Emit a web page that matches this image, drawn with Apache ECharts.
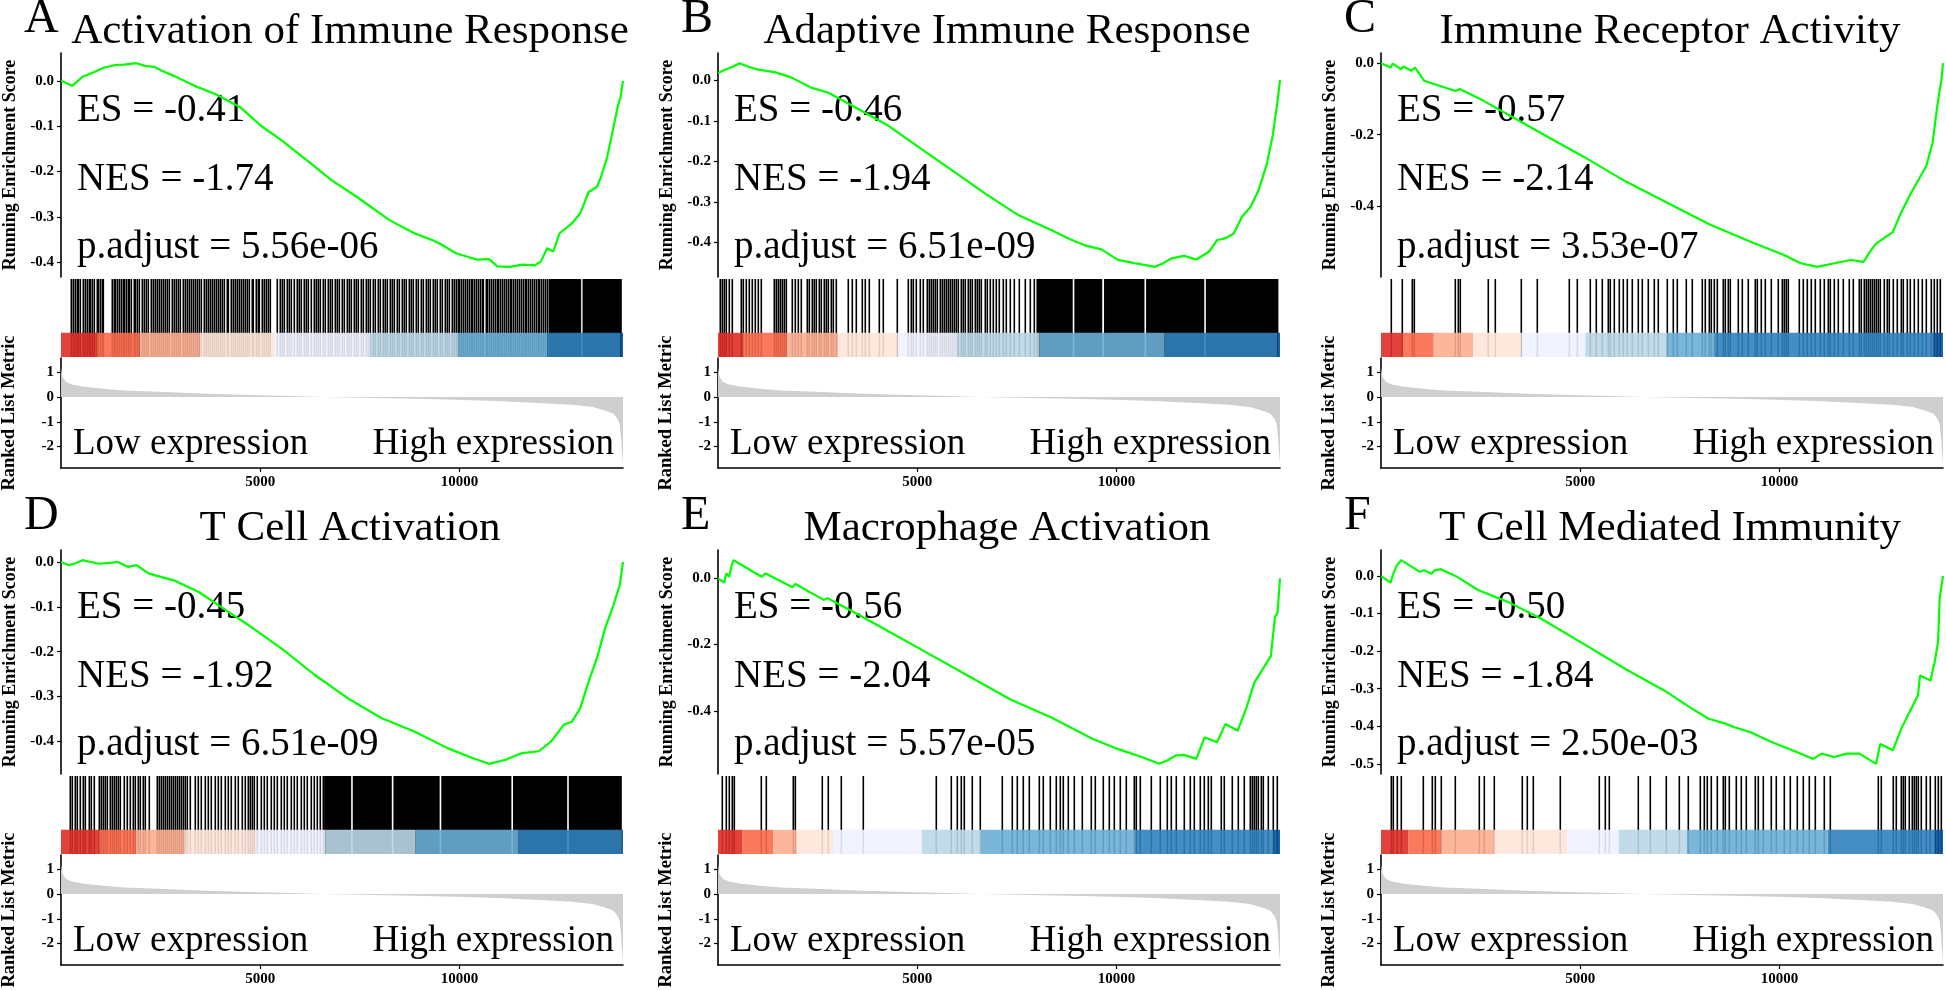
<!DOCTYPE html>
<html><head><meta charset="utf-8">
<script src="https://cdn.jsdelivr.net/npm/echarts@6/dist/echarts.min.js"></script>
<style>html,body{margin:0;padding:0;background:#fff}#c{width:1946px;height:990px}</style>
</head><body><div id="c"></div>
<script>
// ---------------- DATA ----------------
const N = 14100;
const letters = ['A','B','C','D','E','F'];
const titles = ['Activation of Immune Response','Adaptive Immune Response','Immune Receptor Activity',
                'T Cell Activation','Macrophage Activation','T Cell Mediated Immunity'];
const esText = ['ES = -0.41','ES = -0.46','ES = -0.57','ES = -0.45','ES = -0.56','ES = -0.50'];
const nesText = ['NES = -1.74','NES = -1.94','NES = -2.14','NES = -1.92','NES = -2.04','NES = -1.84'];
const padjText = ['p.adjust = 5.56e-06','p.adjust = 6.51e-09','p.adjust = 3.53e-07',
                  'p.adjust = 6.51e-09','p.adjust = 5.57e-05','p.adjust = 2.50e-03'];
const esTicksA = [0,-0.1,-0.2,-0.3,-0.4];
const esTicksB = [0,-0.1,-0.2,-0.3,-0.4];
const esTicksC = [0,-0.2,-0.4];
const esTicksD = [0,-0.1,-0.2,-0.3,-0.4];
const esTicksE = [0,-0.2,-0.4];
const esTicksF = [0,-0.1,-0.2,-0.3,-0.4,-0.5];
const metricTicks = [1,0,-1,-2];
const xTickValues = [5000,10000];
const lowLabel = 'Low expression', highLabel = 'High expression';

const esA = [[1,0.0],[281,-0.011],[541,0.009],[853,0.020],[1061,0.029],[1374,0.035],[1582,0.036],[1894,0.039],[2102,0.033],[2331,0.031],[2518,0.023],[2830,0.011],[3351,-0.011],[3871,-0.029],[4496,-0.058],[5016,-0.099],[5536,-0.131],[6264,-0.182],[6785,-0.219],[7409,-0.255],[8242,-0.307],[8866,-0.336],[9282,-0.350],[9490,-0.358],[9907,-0.380],[10427,-0.394],[10739,-0.393],[10947,-0.409],[11259,-0.410],[11571,-0.405],[11884,-0.407],[12040,-0.398],[12196,-0.369],[12352,-0.376],[12508,-0.336],[12820,-0.314],[13028,-0.292],[13236,-0.245],[13444,-0.234],[13548,-0.212],[13704,-0.168],[13861,-0.102],[13965,-0.058],[14038,-0.036],[14100,0.0]];
const esB = [[1,0.018],[176,0.026],[384,0.034],[540,0.042],[747,0.034],[1006,0.026],[1421,0.020],[1836,0.007],[2355,-0.019],[2770,-0.031],[3393,-0.064],[4223,-0.109],[5053,-0.166],[5883,-0.223],[6713,-0.280],[7543,-0.333],[8373,-0.370],[8788,-0.390],[9203,-0.407],[9618,-0.417],[10033,-0.443],[10448,-0.451],[10967,-0.460],[11174,-0.451],[11382,-0.439],[11693,-0.433],[12004,-0.442],[12315,-0.423],[12523,-0.394],[12730,-0.390],[12938,-0.378],[13145,-0.337],[13353,-0.313],[13560,-0.272],[13768,-0.207],[13923,-0.133],[14027,-0.060],[14100,0.0]];
const esC = [[1,0.0],[241,-0.012],[294,-0.001],[504,-0.017],[556,-0.009],[766,-0.021],[850,-0.012],[1081,-0.049],[1869,-0.078],[1974,-0.072],[2551,-0.104],[3286,-0.150],[4021,-0.196],[5071,-0.261],[6121,-0.330],[7171,-0.390],[8221,-0.450],[9271,-0.500],[10111,-0.537],[10531,-0.560],[10951,-0.570],[11371,-0.560],[11790,-0.551],[12107,-0.556],[12264,-0.528],[12420,-0.505],[12840,-0.473],[13050,-0.418],[13260,-0.371],[13470,-0.330],[13680,-0.288],[13837,-0.224],[13942,-0.132],[14016,-0.076],[14058,-0.049],[14100,0.0]];
const esD = [[1,0.0],[177,-0.007],[333,-0.004],[541,0.004],[749,0.0],[957,-0.004],[1217,-0.002],[1426,0.0],[1686,-0.011],[1894,-0.007],[2206,-0.026],[2830,-0.041],[3455,-0.067],[4079,-0.104],[4704,-0.141],[5536,-0.193],[6368,-0.252],[7201,-0.304],[8033,-0.348],[8866,-0.378],[9698,-0.415],[10323,-0.437],[10739,-0.450],[11155,-0.441],[11571,-0.426],[11988,-0.422],[12300,-0.400],[12612,-0.363],[12820,-0.356],[13028,-0.326],[13236,-0.267],[13444,-0.215],[13652,-0.148],[13861,-0.096],[14017,-0.052],[14100,0.0]];
const esE = [[1,0.0],[156,-0.013],[208,0.015],[281,0.005],[343,0.040],[395,0.055],[1091,0.005],[1195,0.015],[1870,-0.027],[1943,-0.017],[2649,-0.065],[2753,-0.060],[3377,-0.100],[4208,-0.155],[5247,-0.225],[6286,-0.295],[7325,-0.365],[8364,-0.420],[9403,-0.485],[10026,-0.515],[10650,-0.540],[11065,-0.560],[11273,-0.550],[11481,-0.535],[11689,-0.533],[12000,-0.545],[12208,-0.480],[12520,-0.495],[12728,-0.440],[13039,-0.460],[13247,-0.395],[13455,-0.315],[13663,-0.275],[13871,-0.235],[13975,-0.115],[14037,-0.105],[14100,0.0]];
const esF = [[1,0.0],[241,-0.018],[294,0.002],[399,0.028],[504,0.042],[976,0.011],[1081,0.015],[1270,0.006],[1344,0.015],[1501,0.018],[1921,-0.003],[2446,-0.038],[3181,-0.069],[4021,-0.114],[5071,-0.180],[6121,-0.247],[7171,-0.309],[7801,-0.353],[8221,-0.380],[8641,-0.393],[8851,-0.402],[9271,-0.416],[9796,-0.442],[10321,-0.464],[10846,-0.487],[11056,-0.473],[11371,-0.482],[11686,-0.473],[12001,-0.473],[12421,-0.500],[12526,-0.447],[12841,-0.464],[13051,-0.407],[13261,-0.362],[13471,-0.318],[13524,-0.265],[13786,-0.278],[13891,-0.229],[13975,-0.176],[14017,-0.060],[14100,0.0]];

const hitsA = [250,300,352,398,437,489,541,590,640,690,740,790,840,894,936,985,1030,1061,
  1269,1318,1365,1410,1455,1498,1545,1590,1633,1674,1716,1768,1820,1860,1910,1966,
  2020,2075,2130,2185,2246,2300,2350,2413,2460,2510,2560,2621,2670,2720,2777,2830,2880,2933,2990,3050,3120,3170,3220,3270,3318,3370,3420,3470,3520,3580,3630,3682,3740,3790,3840,3890,3950,4000,4046,4100,4160,4202,4260,4320,4368,4420,4470,4520,4570,4620,4670,4720,4780,4826,4880,4930,4980,5044,5090,5140,5190,5252,
  5429,5485,5550,5600,5668,5730,5781,5850,5912,5970,6025,6092,6150,6203,6270,6335,6390,6442,6510,6565,6620,6688,6740,6805,6864,6915,6983,7040,7095,7165,7220,7277,7341,7405,7462,7530,7581,7645,7710,7765,7818,7884,7946,8002,8070,8125,8180,8247,8305,8360,8424,8480,8550,8605,8660,8728,8785,8840,8905,8962,9027,9080,9148,9205,9262,9325,9380,9445,9506,9560,9628,9685,9740,9805,9860,9901,
  9950,9995,10040,10090,10135,10180,10230,10275,10320,10372,10415,10460,10510,10555,10600,10652,10695,10740,10790,10835,10880,10930,10975,11020,11070,11115,11160,11212,11255,11300,11350,11395,11440,11490,11535,11580,11630,11675,11720,11772,11815,11860,11910,11955,12000,12050,12095,12140,12190];
const blocksA = [[12230,13050],[13085,14070]];
const hitsB = [52,104,156,210,280,363,571,620,700,780,850,930,1010,1089,1401,1450,1500,1560,1610,1660,1712,1868,1930,2000,2075,2231,2290,2350,2410,2470,2530,2590,2650,2710,2770,2830,2890,2957,3268,3370,3470,3620,3700,3787,4046,4150,4492,4773,4830,4900,4980,5060,5140,5239,5291,5350,5400,5450,5500,5560,5610,5660,5710,5770,5820,5870,5930,5980,6030,6090,6140,6200,6277,6330,6380,6440,6490,6540,6588,6692,6760,6830,6900,6980,7060,7140,7220,7314,7420,7560,7700,7820,7937];
const blocksB = [[7989,8900],[8940,9640],[9685,10700],[10740,12200],[12240,14060]];
const hitsC = [241,536,767,840,1869,1922,1974,2688,2867,3518,3917,4725,4925,5250,5387,5544,5702,5754,5838,5964,6069,6174,6300,6437,6542,6699,6857,6941,7172,7329,7434,7644,7802,8064,8117,8222,8274,8358,8432,8589,8642,8694,8747,8957,9062,9219,9377,9429,9534,9639,9797,9954,10059,10112,10164,10217,10479,10584,10689,10794,10899,11004,11109,11214,11267,11372,11477,11582,11739,11844,12002,12054,12107,12159,12212,12264,12317,12369,12422,12474,12527,12632,12684,12737,12842,12947,13052,13104,13209,13262,13367,13472,13577,13682,13787,13871,13944,14018];
const blocksC = [];
const hitsD = [229,280,340,400,470,560,600,690,760,830,957,1009,1060,1110,1160,1220,1270,1320,1370,1420,1478,1582,1660,1720,1800,1860,1920,1990,2060,2120,2206,2414,2460,2510,2560,2610,2660,2710,2760,2810,2860,2910,2960,3010,3060,3110,3160,3247,3351,3440,3520,3610,3690,3770,3860,3940,4020,4110,4190,4270,4360,4440,4530,4620,4704,4750,4800,4850,4912,5010,5090,5170,5260,5340,5420,5510,5590,5670,5760,5840,5930,6010,6090,6180,6260,6340,6430,6510,6577];
const blocksD = [[6600,7280],[7320,8300],[8340,9500],[9540,11300],[11340,12700],[12740,14070]];
const hitsE = [104,208,281,343,395,1091,1195,1870,1943,2618,2753,3086,3637,5476,5839,6005,6099,6182,6369,6577,7117,7377,7512,7657,7793,8052,8156,8333,8468,8572,8655,8780,8935,9143,9351,9455,9663,9819,9943,10078,10234,10442,10494,10598,10858,11086,11273,11377,11502,11689,11845,11949,12104,12187,12291,12364,12624,12707,12904,13039,13195,13351,13403,13455,13507,13559,13611,13663,13788,13923,14027];
const blocksE = [];
const hitsF = [241,294,399,504,1060,1270,1344,1501,1869,2467,2572,2845,3528,3654,3811,4494,5470,5617,5722,6436,6751,7150,7465,7696,8011,8095,8169,8274,8431,8589,8641,8725,8904,9040,9166,9376,9460,9586,9775,9901,10111,10269,10426,10584,10741,10899,11109,11266,12474,12547,12841,12925,13051,13104,13156,13240,13314,13366,13419,13471,13555,13681,13786,13891,13975,14049];
const blocksF = [];

const bandA = [0,905,1977,3486,5359,7752,9958,12196,14027,14100];
const bandB = [0,622,1743,3009,4513,5997,8062,11205,14038,14100];
const bandC = [0,535,1323,2310,3517,5124,7171,8379,13859,14100];
const bandD = [0,957,1894,3091,4880,6629,8897,11467,14069,14100];
const bandE = [0,603,1382,1974,2889,5112,6598,10473,13943,14100];
const bandF = [0,682,1501,2835,4672,5964,7675,11213,13890,14100];
const bandColors = ['#DE2D26','#FB6A4A','#FCAE91','#FEE5D9','#EFF3FF','#BDD7E7','#6BAED6','#3182BD','#08519C'];

const rankedMetric = [[1,1.20],[40,0.81],[125,0.61],[280,0.51],[540,0.43],[1060,0.34],[1580,0.27],[2620,0.20],[3660,0.135],[4960,0.07],[5740,0.04],[6580,0.0],[7820,-0.04],[8860,-0.07],[9900,-0.11],[10950,-0.16],[11990,-0.24],[12820,-0.31],[13340,-0.40],[13650,-0.54],[13860,-0.68],[13960,-0.88],[14015,-1.08],[14050,-1.62],[14070,-2.16],[14100,-2.70]];

// ---------------- LAYOUT ----------------
const colLeft = [61, 718, 1381];
const plotW = 562;
const rowTop = [0, 497];
const SERIF = '"Liberation Serif","Times New Roman",serif';
const metricMin = -2.87, metricMax = 1.58;
const bandFrac = 0.31;

const panels = [
  {es: esA, ticks: esTicksA, hits: hitsA, blocks: blocksA, band: bandA},
  {es: esB, ticks: esTicksB, hits: hitsB, blocks: blocksB, band: bandB},
  {es: esC, ticks: esTicksC, hits: hitsC, blocks: blocksC, band: bandC},
  {es: esD, ticks: esTicksD, hits: hitsD, blocks: blocksD, band: bandD},
  {es: esE, ticks: esTicksE, hits: hitsE, blocks: blocksE, band: bandE},
  {es: esF, ticks: esTicksF, hits: hitsF, blocks: blocksF, band: bandF}
];

const grids = [], xAxes = [], yAxes = [], series = [], graphics = [];
const axisLineStyle = {color: '#000', width: 1.6};
const tickFont = {fontFamily: SERIF, fontWeight: 'bold', fontSize: 15, color: '#000'};

function xAxis(gridIndex, full) {
  return {type: 'value', gridIndex, min: 0, max: N, interval: 2500,
    axisLine: {show: full, onZero: false, lineStyle: axisLineStyle},
    axisTick: {show: full, customValues: xTickValues, length: 4, lineStyle: {color: '#000', width: 1.2}},
    axisLabel: Object.assign({show: full, customValues: xTickValues, margin: 7, formatter: v => String(v)}, tickFont),
    splitLine: {show: true, showMinLine: false, showMaxLine: false, lineStyle: {color: '#EBEBEB', width: 1.2}}};
}

function text(str, x, y, font, align, rot) {
  graphics.push({type: 'text', x, y, rotation: rot || 0, silent: true,
    style: {text: str, font, fill: '#000', textAlign: align, align: align,
            textVerticalAlign: 'middle', verticalAlign: 'middle'}});
}

panels.forEach((p, i) => {
  const L = colLeft[i % 3], R = rowTop[Math.floor(i / 3)];
  const gi = grids.length;
  grids.push({left: L, top: R + 53, width: plotW, height: 224});
  grids.push({left: L, top: R + 279, width: plotW, height: 78});
  grids.push({left: L, top: R + 358, width: plotW, height: 110});

  // ES panel
  const ys = p.es.map(d => d[1]);
  const lo = Math.min(...ys), hi = Math.max(...ys), pad = (hi - lo) * 0.05;
  xAxes.push(xAxis(gi, false));
  yAxes.push({type: 'value', gridIndex: gi, min: lo - pad, max: hi + pad,
    axisLine: {show: true, onZero: false, lineStyle: axisLineStyle},
    axisTick: {show: true, customValues: p.ticks, length: 4, lineStyle: {color: '#000', width: 1.2}},
    axisLabel: Object.assign({customValues: p.ticks, margin: 7, formatter: v => v.toFixed(1)}, tickFont),
    splitLine: {show: false}});
  series.push({type: 'line', xAxisIndex: gi, yAxisIndex: gi, data: p.es, showSymbol: false,
    lineStyle: {color: '#00FF00', width: 2.2}, silent: true, z: 5});

  // barcode + colour band panel
  xAxes.push(xAxis(gi + 1, false));
  yAxes.push({type: 'value', gridIndex: gi + 1, min: 0, max: 1, show: false, splitLine: {show: false}});
  series.push({type: 'custom', xAxisIndex: gi + 1, yAxisIndex: gi + 1, silent: true,
    data: p.hits.map(h => [h, 0]),
    renderItem: (params, api) => {
      const a = api.coord([api.value(0), 0]), b = api.coord([api.value(0), 1]);
      return {type: 'rect', shape: {x: Math.round(a[0]) - 0.5, y: b[1], width: 1.6, height: a[1] - b[1]}, style: {fill: '#000'}};
    }});
  series.push({type: 'custom', xAxisIndex: gi + 1, yAxisIndex: gi + 1, silent: true,
    data: p.blocks.map(b => [b[0], b[1]]),
    renderItem: (params, api) => {
      const a = api.coord([api.value(0), 0]), b = api.coord([api.value(1), 1]);
      return {type: 'rect', shape: {x: a[0], y: b[1], width: b[0] - a[0], height: a[1] - b[1]}, style: {fill: '#000'}};
    }});
  const segs = [];
  for (let k = 0; k < p.band.length - 1; k++) segs.push([p.band[k], p.band[k + 1], k]);
  series.push({type: 'custom', xAxisIndex: gi + 1, yAxisIndex: gi + 1, silent: true, z: 4,
    data: segs,
    renderItem: (params, api) => {
      const a = api.coord([api.value(0), 0]), b = api.coord([api.value(1), bandFrac]);
      return {type: 'rect', shape: {x: a[0], y: b[1], width: b[0] - a[0], height: a[1] - b[1]},
        style: {fill: bandColors[api.value(2)], opacity: 0.9}};
    }});

  // ranked list metric panel
  xAxes.push(xAxis(gi + 2, true));
  yAxes.push({type: 'value', gridIndex: gi + 2, min: metricMin, max: metricMax,
    axisLine: {show: true, onZero: false, lineStyle: axisLineStyle},
    axisTick: {show: true, customValues: metricTicks, length: 4, lineStyle: {color: '#000', width: 1.2}},
    axisLabel: Object.assign({customValues: metricTicks, margin: 7}, tickFont),
    splitLine: {show: false}});
  series.push({type: 'line', xAxisIndex: gi + 2, yAxisIndex: gi + 2, data: rankedMetric, showSymbol: false,
    lineStyle: {width: 0, color: '#cfcfcf'}, areaStyle: {color: '#cfcfcf', opacity: 1}, silent: true});

  // texts
  text(letters[i], L - 37, R + 19, '48px ' + SERIF, 'left');
  text(titles[i], L + plotW / 2 + 8, R + 32, '43px ' + SERIF, 'center');
  text(esText[i], L + 16, R + 111, '39px ' + SERIF, 'left');
  text(nesText[i], L + 16, R + 180, '39px ' + SERIF, 'left');
  text(padjText[i], L + 16, R + 248, '39px ' + SERIF, 'left');
  text(lowLabel, L + 12, R + 444, '37px ' + SERIF, 'left');
  text(highLabel, L + plotW - 9, R + 444, '37px ' + SERIF, 'right');
  text('Running Enrichment Score', L - 51, R + 165, 'bold 18px ' + SERIF, 'center', Math.PI / 2);
  text('Ranked List Metric', L - 52, R + 413, 'bold 18.5px ' + SERIF, 'center', Math.PI / 2);
});

const chart = echarts.init(document.getElementById('c'), null, {renderer: 'canvas', width: 1946, height: 990});
chart.setOption({animation: false, backgroundColor: '#fff',
  grid: grids, xAxis: xAxes, yAxis: yAxes, series, graphic: graphics});
</script></body></html>
